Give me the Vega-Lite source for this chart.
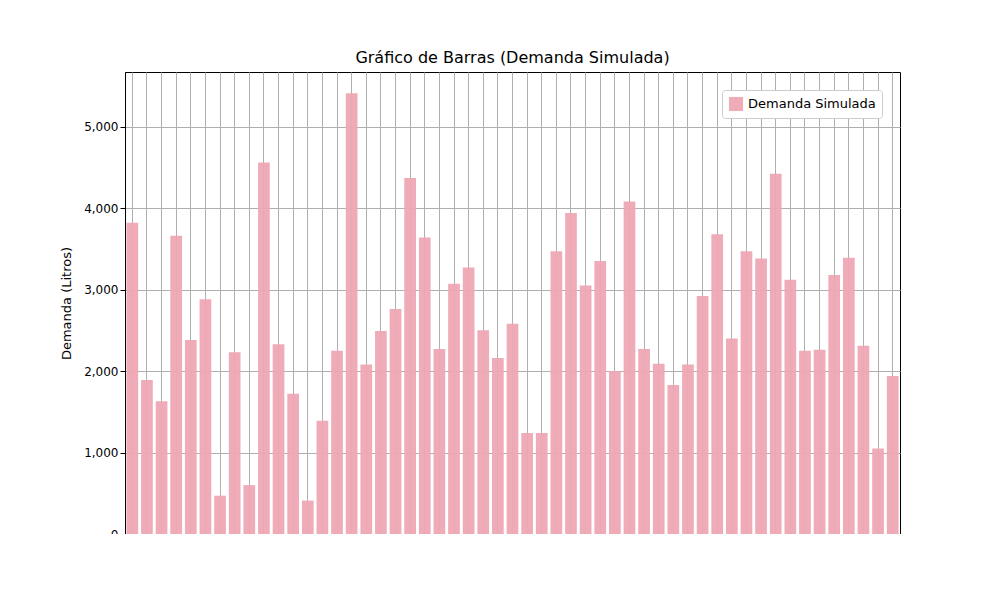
{
  "$schema": "https://vega.github.io/schema/vega-lite/v6.json",
  "width": 775,
  "height": 462,
  "padding": {"left": 125, "top": 72, "right": 100, "bottom": 0},
  "autosize": {"type": "none"},
  "title": {"text": "Gráfico de Barras (Demanda Simulada)", "fontSize": 16, "fontWeight": "normal", "font": "DejaVu Sans", "color": "#000", "offset": 6},
  "data": {"values": [
    {"dia": 1, "demanda": 3820}, {"dia": 2, "demanda": 1890}, {"dia": 3, "demanda": 1630},
    {"dia": 4, "demanda": 3660}, {"dia": 5, "demanda": 2380}, {"dia": 6, "demanda": 2880},
    {"dia": 7, "demanda": 470}, {"dia": 8, "demanda": 2230}, {"dia": 9, "demanda": 600},
    {"dia": 10, "demanda": 4560}, {"dia": 11, "demanda": 2330}, {"dia": 12, "demanda": 1720},
    {"dia": 13, "demanda": 410}, {"dia": 14, "demanda": 1390}, {"dia": 15, "demanda": 2250},
    {"dia": 16, "demanda": 5410}, {"dia": 17, "demanda": 2080}, {"dia": 18, "demanda": 2490},
    {"dia": 19, "demanda": 2760}, {"dia": 20, "demanda": 4370}, {"dia": 21, "demanda": 3640},
    {"dia": 22, "demanda": 2270}, {"dia": 23, "demanda": 3070}, {"dia": 24, "demanda": 3270},
    {"dia": 25, "demanda": 2500}, {"dia": 26, "demanda": 2160}, {"dia": 27, "demanda": 2580},
    {"dia": 28, "demanda": 1240}, {"dia": 29, "demanda": 1240}, {"dia": 30, "demanda": 3470},
    {"dia": 31, "demanda": 3940}, {"dia": 32, "demanda": 3050}, {"dia": 33, "demanda": 3350},
    {"dia": 34, "demanda": 2000}, {"dia": 35, "demanda": 4080}, {"dia": 36, "demanda": 2270},
    {"dia": 37, "demanda": 2090}, {"dia": 38, "demanda": 1830}, {"dia": 39, "demanda": 2080},
    {"dia": 40, "demanda": 2920}, {"dia": 41, "demanda": 3680}, {"dia": 42, "demanda": 2400},
    {"dia": 43, "demanda": 3470}, {"dia": 44, "demanda": 3380}, {"dia": 45, "demanda": 4420},
    {"dia": 46, "demanda": 3120}, {"dia": 47, "demanda": 2250}, {"dia": 48, "demanda": 2260},
    {"dia": 49, "demanda": 3180}, {"dia": 50, "demanda": 3390}, {"dia": 51, "demanda": 2310},
    {"dia": 52, "demanda": 1050}, {"dia": 53, "demanda": 1940}
  ]},
  "transform": [{"calculate": "'Demanda Simulada'", "as": "serie"}],
  "mark": {"type": "bar", "opacity": 0.95},
  "encoding": {
    "x": {
      "field": "dia", "type": "ordinal",
      "scale": {"paddingInner": 0.2, "paddingOuter": 0.1},
      "axis": {"title": ["Dias", "", "Este gráfico de dispersión muestra la relación entre diferentes variables para el producto."], "titleLineHeight": 16, "labelAngle": 0, "labelExpr": "datum.value == 1 ? '' : datum.label", "grid": true, "gridColor": "#b0b0b0", "labelPadding": 2, "titlePadding": 4}
    },
    "y": {
      "field": "demanda", "type": "quantitative",
      "scale": {"domain": [0, 5670], "nice": false},
      "axis": {"title": "Demanda (Litros)", "values": [0, 1000, 2000, 3000, 4000, 5000], "grid": true, "gridColor": "#b0b0b0", "titlePadding": 10}
    },
    "color": {
      "field": "serie", "type": "nominal",
      "scale": {"range": ["#eea6b3"]},
      "legend": {"title": null, "orient": "top-right", "fillColor": "white", "strokeColor": "#cccccc", "padding": 6, "labelFontSize": 13, "symbolType": "square", "symbolSize": 200, "cornerRadius": 3}
    }
  },
  "config": {
    "font": "DejaVu Sans",
    "view": {"stroke": "#000", "strokeWidth": 1},
    "axis": {"labelFontSize": 12, "titleFontSize": 13, "titleFontWeight": "normal", "labelColor": "#000", "titleColor": "#000", "domainColor": "#000", "tickColor": "#000", "gridOpacity": 1}
  }
}
